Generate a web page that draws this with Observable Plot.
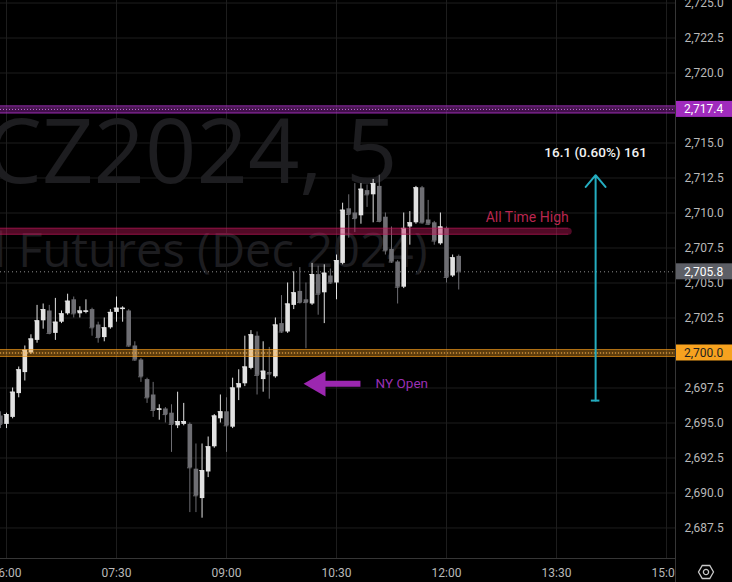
<!DOCTYPE html>
<html>
<head>
<meta charset="utf-8">
<script src="https://cdn.jsdelivr.net/npm/d3@7"></script>
<script src="https://cdn.jsdelivr.net/npm/@observablehq/plot@0.6"></script>
<style>
  html, body { margin: 0; padding: 0; background: #000; }
  #chart svg { display: block; }
</style>
</head>
<body>
<div id="chart"></div>
<script>
// GCZ2024 — 5 minute bars
const symbolLine = "GCZ2024, 5";
const descriptionLine = "Gold Futures (Dec 2024)";
const firstBar = "05:55";
const barMinutes = 5;

const opens  = [2695.5,2694.9,2695.4,2697.1,2698.6,2700.0,2700.9,2702.3,2703.0,2701.4,
                2702.2,2702.8,2703.8,2702.8,2702.9,2703.1,2702.0,2701.1,2701.8,2702.9,
                2703.1,2703.0,2700.5,2699.5,2698.1,2697.0,2695.9,2696.0,2695.7,2694.8,
                2694.9,2694.9,2691.7,2689.6,2691.5,2693.3,2695.3,2695.8,2694.7,2697.5,
                2697.8,2698.9,2701.2,2698.1,2698.6,2698.3,2702.1,2701.5,2703.4,2704.4,
                2703.8,2703.5,2705.6,2704.3,2705.5,2705.0,2706.4,2710.3,2710.0,2709.8,
                2711.6,2711.3,2711.9,2709.7,2707.4,2706.5,2704.7,2709.0,2709.3,2711.8,
                2709.5,2709.3,2707.8,2708.9,2705.5,2706.9];
const highs  = [2695.8,2695.7,2697.5,2699.0,2700.5,2701.3,2703.4,2703.5,2703.4,2703.9,
                2703.0,2704.2,2704.0,2703.3,2703.8,2703.2,2702.2,2702.5,2703.1,2704.0,
                2703.3,2703.1,2700.8,2699.6,2698.2,2697.9,2696.3,2696.1,2696.3,2697.2,
                2696.4,2695.0,2693.5,2693.5,2694.0,2695.6,2697.0,2696.8,2698.2,2698.8,
                2701.2,2701.6,2701.5,2700.8,2700.4,2702.5,2704.1,2705.0,2705.8,2706.1,
                2705.0,2706.4,2706.2,2706.3,2706.0,2707.0,2710.7,2711.3,2712.1,2712.1,
                2712.0,2712.4,2712.7,2710.0,2709.0,2706.6,2710.0,2710.1,2711.9,2711.9,
                2710.9,2709.4,2710.0,2709.0,2707.0,2707.0];
const lows   = [2694.6,2694.6,2695.3,2696.8,2698.0,2699.9,2700.7,2701.7,2701.3,2700.9,
                2702.1,2702.7,2702.5,2702.5,2702.8,2701.2,2700.7,2700.8,2701.7,2702.2,
                2702.2,2700.4,2699.4,2697.9,2696.4,2695.4,2695.2,2695.0,2692.9,2694.6,
                2694.8,2688.6,2688.6,2688.2,2691.1,2693.2,2695.0,2692.9,2694.6,2696.6,
                2697.6,2698.8,2697.0,2697.2,2696.7,2698.2,2701.4,2701.4,2703.1,2703.5,
                2700.3,2703.4,2702.7,2702.1,2704.9,2703.8,2706.3,2708.2,2708.6,2709.2,
                2710.4,2709.3,2709.3,2707.0,2706.4,2703.5,2704.6,2707.7,2709.2,2709.2,
                2709.1,2707.7,2707.7,2705.0,2705.4,2704.5];
const closes = [2694.9,2695.6,2697.2,2698.8,2700.2,2701.0,2702.3,2703.1,2701.4,2702.2,
                2702.8,2703.7,2702.8,2703.0,2703.0,2701.8,2701.1,2701.8,2702.9,2703.2,
                2703.2,2700.5,2699.5,2698.3,2696.8,2695.9,2696.0,2695.6,2694.9,2695.1,
                2695.1,2691.8,2689.8,2691.6,2693.3,2695.5,2695.8,2694.8,2697.5,2697.8,
                2699.0,2701.3,2698.4,2698.7,2698.5,2702.0,2701.5,2703.5,2704.3,2703.6,
                2703.6,2705.6,2704.2,2705.7,2705.0,2706.6,2710.2,2709.9,2709.6,2711.7,
                2711.3,2712.1,2709.4,2707.3,2706.5,2704.7,2708.9,2709.3,2711.8,2709.3,
                2709.2,2708.0,2709.0,2705.4,2706.8,2705.8];

const priceTicks = [2687.5,2690,2692.5,2695,2697.5,2700,2702.5,2705,2707.5,
                    2710,2712.5,2715,2717.5,2720,2722.5,2725];
const timeTicks = ["06:00","07:30","09:00","10:30","12:00","13:30","15:00"];

// Drawn levels and notes
const lastPrice = 2705.8;
const nyOpenLevel = 2700.0;
const upperLevel = 2717.4;
const athLevel = 2708.7;
const athLabel = "All Time High";
const athEnd = "13:40";
const measureFrom = 2696.6;
const measureTo = 2712.7;
const measureAt = "14:02";
const measureText = "16.1 (0.60%) 161";
const nyArrowHead = "10:15";
const nyArrowTail = "10:50";
const nyArrowPrice = 2697.8;
const nyLabel = "NY Open";
const nyLabelAt = "11:02";

const toMin = s => { const [h, m] = s.split(":").map(Number); return h * 60 + m; };
const fmtTime = m => String(Math.floor(m / 60)).padStart(2, "0") + ":" + String(m % 60).padStart(2, "0");
const start = toMin(firstBar);
const candles = opens.map((o, i) => ({
  t: start + i * barMinutes, o, h: highs[i], l: lows[i], c: closes[i], up: closes[i] >= o
}));
const upColor = "#e2e2e2";
const downColor = "#6e6e73";
const candleColor = d => d.up ? upColor : downColor;

const axisColor = "#b9b9b9";
const gridColor = "#1d1d1d";
const font = "Roboto, 'Liberation Sans', sans-serif";

const plot = Plot.plot({
  width: 732,
  height: 582,
  marginLeft: 0,
  marginRight: 56,
  marginTop: 0,
  marginBottom: 24,
  style: { background: "#000", fontFamily: font, fontSize: "12px", color: axisColor },
  x: { type: "linear", domain: [355.09, 908.18] },
  y: { domain: [2685.32, 2725.18] },
  marks: [
    Plot.gridY(priceTicks, { stroke: gridColor, strokeOpacity: 1 }),
    Plot.gridX(timeTicks.map(toMin), { stroke: gridColor, strokeOpacity: 1 }),

    // symbol watermark
    Plot.text([symbolLine], { text: d => d, frameAnchor: "top-left", dx: 397, dy: 119, textAnchor: "end",
      lineAnchor: "top", fontSize: 90, fill: "#1d1d20", fontFamily: "'Open Sans', sans-serif" }),
    Plot.text([descriptionLine], { text: d => d, frameAnchor: "top-left", dx: 427, dy: 233, textAnchor: "end",
      lineAnchor: "top", fontSize: 47, fill: "#1d1d20", fontFamily: "'Open Sans', sans-serif" }),

    // last price
    Plot.ruleY([lastPrice], { stroke: "#8c8c8c", strokeDasharray: "1,3", strokeWidth: 1 }),

    // candles: wicks then bodies
    Plot.ruleX(candles, { x: "t", y1: "l", y2: "h", stroke: candleColor, strokeWidth: 1 }),
    Plot.ruleY(candles, { y: "c", x1: d => d.t - 1.9, x2: d => d.t + 1.9, stroke: candleColor, strokeWidth: 1 }),
    Plot.ruleX(candles, { x: "t", y1: "o", y2: "c", stroke: candleColor, strokeWidth: 4.6 }),

    // upper level band
    Plot.ruleY([upperLevel], { stroke: "#9c27b0", strokeOpacity: 0.42, strokeWidth: 8 }),
    Plot.ruleY([upperLevel], { stroke: "#a934c4", strokeOpacity: 0.75, strokeWidth: 1, dy: -3.5 }),
    Plot.ruleY([upperLevel], { stroke: "#a934c4", strokeOpacity: 0.75, strokeWidth: 1, dy: 3.5 }),
    Plot.ruleY([upperLevel], { stroke: "#c66ee0", strokeDasharray: "1,2", strokeWidth: 1 }),

    // all time high band
    Plot.ruleY([athLevel], { x1: 340, x2: toMin(athEnd), stroke: "#c2185b", strokeOpacity: 0.42,
      strokeWidth: 7, strokeLinecap: "round" }),
    Plot.ruleY([athLevel], { x1: 340, x2: toMin(athEnd), stroke: "#c2185b", strokeOpacity: 0.55, strokeWidth: 1, dy: -3 }),
    Plot.ruleY([athLevel], { x1: 340, x2: toMin(athEnd), stroke: "#c2185b", strokeOpacity: 0.55, strokeWidth: 1, dy: 3 }),
    Plot.text([athLabel], { text: d => d, x: toMin(athEnd), y: athLevel, dy: -14, textAnchor: "end",
      fill: "#b8264f", fontSize: 14 }),

    // NY open band
    Plot.ruleY([nyOpenLevel], { stroke: "#f59d1c", strokeOpacity: 0.38, strokeWidth: 8 }),
    Plot.ruleY([nyOpenLevel], { stroke: "#f59d1c", strokeOpacity: 0.55, strokeWidth: 1, dy: -3.5 }),
    Plot.ruleY([nyOpenLevel], { stroke: "#f59d1c", strokeOpacity: 0.55, strokeWidth: 1, dy: 3.5 }),
    Plot.ruleY([nyOpenLevel], { stroke: "#ffb44d", strokeDasharray: "1,2", strokeWidth: 1 }),

    // price range measurement
    Plot.arrow([{ t: toMin(measureAt), a: measureFrom, b: measureTo }], {
      x1: "t", x2: "t", y1: "a", y2: "b", stroke: "#24adc0", strokeWidth: 2, headLength: 11.5, headAngle: 80 }),
    Plot.ruleY([measureFrom], { x1: toMin(measureAt) - 3.5, x2: toMin(measureAt) + 3.5, stroke: "#24adc0", strokeWidth: 2 }),
    Plot.text([measureText], { text: d => d, x: toMin(measureAt), y: measureTo, dy: -23, fill: "#f2f2f2",
      fontSize: 13.5, fontWeight: 500 }),

    // NY open pointer
    Plot.ruleY([nyArrowPrice], { x1: toMin(nyArrowHead) + 2, x2: toMin(nyArrowTail), stroke: "#9c27b0", strokeWidth: 6 }),
    Plot.dot([nyArrowPrice], { x: toMin(nyArrowHead), y: d => d, symbol: "triangle", r: 9.4, rotate: -90,
      fill: "#9c27b0", stroke: "none" }),
    Plot.text([nyLabel], { text: d => d, x: toMin(nyLabelAt), y: nyArrowPrice, textAnchor: "start",
      fill: "#9b30b5", fontSize: 13.5 }),

    // axes
    Plot.axisX(timeTicks.map(toMin), { tickFormat: fmtTime, tickSize: 0, tickPadding: 10, color: axisColor,
      fontSize: 12, label: null }),
    Plot.axisY(priceTicks, { anchor: "right", tickFormat: d3.format(",.1f"), tickSize: 0, tickPadding: 8,
      color: axisColor, fontSize: 12, label: null })
  ]
});

document.getElementById("chart").appendChild(plot);

// price scale chrome: separators, level badges, settings icon
const svg = d3.select(plot);
const yScale = plot.scale("y");
const paneRight = 676, paneBottom = 558;

svg.append("rect").attr("x", paneRight).attr("y", paneBottom).attr("width", 732 - paneRight)
  .attr("height", 582 - paneBottom).attr("fill", "#000");
svg.append("line").attr("x1", paneRight - 0.5).attr("x2", paneRight - 0.5).attr("y1", 0).attr("y2", 582)
  .attr("stroke", "#363636");
svg.append("line").attr("x1", 0).attr("x2", paneRight).attr("y1", paneBottom + 0.5).attr("y2", paneBottom + 0.5)
  .attr("stroke", "#363636");

const badges = [
  { value: upperLevel, fill: "#a02bbd", text: "#ffffff" },
  { value: lastPrice, fill: "#5d5f66", text: "#ffffff" },
  { value: nyOpenLevel, fill: "#f7a21f", text: "#1e1e1e" }
];
for (const b of badges) {
  const cy = yScale.apply(b.value);
  svg.append("rect").attr("x", paneRight).attr("y", cy - 8).attr("width", 732 - paneRight).attr("height", 16)
    .attr("fill", b.fill);
  svg.append("text").attr("x", paneRight + 8).attr("y", cy).attr("dy", "0.35em")
    .attr("text-anchor", "start")
    .attr("fill", b.text).attr("font-family", font).attr("font-size", 12)
    .text(d3.format(",.1f")(b.value));
}

const gear = svg.append("g").attr("transform", "translate(706,572)")
  .attr("fill", "none").attr("stroke", "#c8c8c8").attr("stroke-width", 1.3);
gear.append("path").attr("d", d3.range(6).map((k, i) => {
  const a = Math.PI / 3 * k;
  return (i ? "L" : "M") + (7.5 * Math.cos(a)).toFixed(2) + "," + (7.5 * Math.sin(a)).toFixed(2);
}).join("") + "Z");
gear.append("circle").attr("r", 2.6);
</script>
</body>
</html>
